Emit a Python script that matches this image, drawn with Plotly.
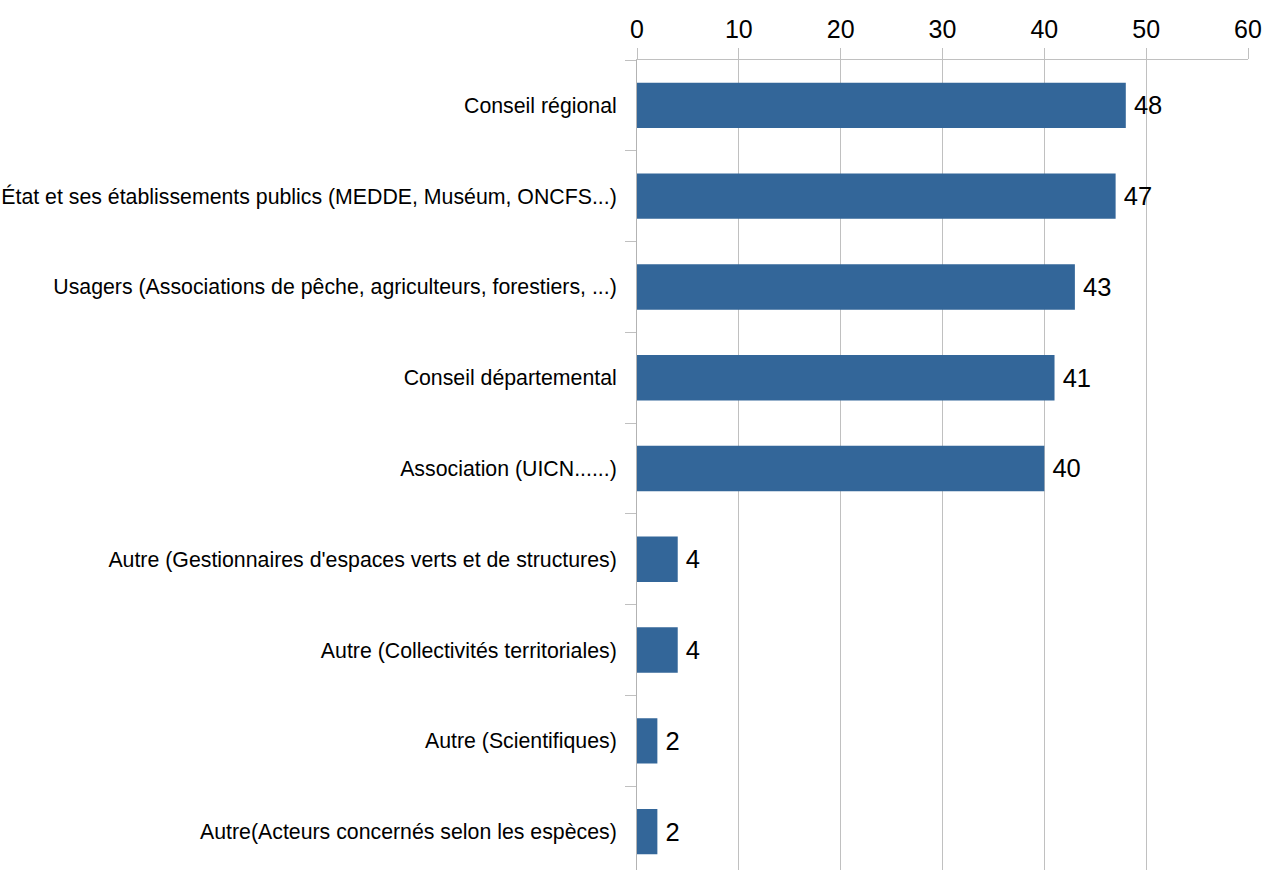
import plotly.graph_objects as go

categories = [
    "Conseil régional",
    "État et ses établissements publics (MEDDE, Muséum, ONCFS...)",
    "Usagers (Associations de pêche, agriculteurs, forestiers, ...)",
    "Conseil départemental",
    "Association (UICN......)",
    "Autre (Gestionnaires d'espaces verts et de structures)",
    "Autre (Collectivités territoriales)",
    "Autre (Scientifiques)",
    "Autre(Acteurs concernés selon les espèces)",
]
values = [48, 47, 43, 41, 40, 4, 4, 2, 2]
x_ticks = [0, 10, 20, 30, 40, 50, 60]

BAR_COLOR = "#336699"
GRID = "#c0c0c0"
FONT = "Liberation Sans, Arial, sans-serif"

fig = go.Figure(
    go.Bar(
        x=values,
        y=categories,
        orientation="h",
        marker=dict(color=BAR_COLOR, line=dict(width=0)),
        texttemplate="\u2009%{x}",
        textposition="outside",
        textfont=dict(size=25.5, color="#000000", family=FONT),
        cliponaxis=False,
        width=0.5,
    )
)

fig.update_layout(
    width=1265,
    height=870,
    margin=dict(l=637, r=17, t=60, b=0, autoexpand=False),
    paper_bgcolor="white",
    plot_bgcolor="white",
    showlegend=False,
    font=dict(family=FONT, color="#000000"),
    xaxis=dict(
        side="top",
        range=[0, 60],
        tickvals=x_ticks,
        ticktext=[str(t) for t in x_ticks],
        tickfont=dict(size=25, family=FONT, color="#000000"),
        showgrid=True,
        gridcolor=GRID,
        gridwidth=1,
        zeroline=False,
        showline=True,
        linecolor=GRID,
        linewidth=1,
        ticks="outside",
        ticklen=11,
        tickcolor=GRID,
        tickwidth=1,
        automargin=False,
    ),
    yaxis=dict(
        type="category",
        categoryorder="array",
        categoryarray=categories,
        range=[8.423, -0.5],
        tickson="boundaries",
        ticks="outside",
        ticklen=11,
        tickcolor=GRID,
        tickwidth=1,
        ticklabelstandoff=15,
        showgrid=False,
        showline=True,
        linecolor="#b3b3b3",
        linewidth=1,
        zeroline=False,
        automargin=False,
        tickfont=dict(size=21.3, family=FONT, color="#000000"),
    ),
)

fig.write_html("out.html")
